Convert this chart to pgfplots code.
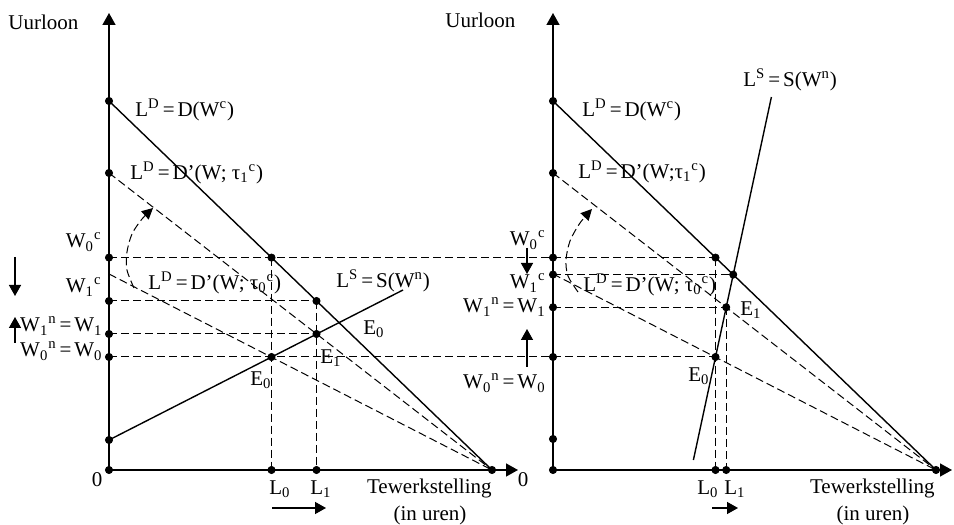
\documentclass[border=0pt]{standalone}
\usepackage{pgfplots}
\pgfplotsset{compat=1.18}
\usepackage{fontspec}
\setmainfont{Liberation Serif}
\usetikzlibrary{arrows.meta}
\newcommand{\eq}{\hspace{0.14em}=\hspace{0.14em}}
\tikzset{
  lab/.style={font=\fontsize{10.5}{12}\selectfont, inner sep=0pt},
  sol/.style={black, line width=0.7pt},
  dsh/.style={black, line width=0.5pt, dash pattern=on 4pt off 2pt},
  ax/.style={black, line width=0.75pt, -{Triangle[width=6.5pt,length=6pt]}},
  sm/.style={black, line width=0.7pt, -{Triangle[width=6pt,length=5.5pt]}},
}
\begin{document}
\begin{tikzpicture}
\begin{axis}[
  width=477pt, height=262.5pt, scale only axis,
  xmin=0, xmax=954, ymin=-55, ymax=470,
  hide axis, clip=false,
]
% bounding box
\addplot[draw=none] coordinates {(0,-55) (954,470)};

% ================= LEFT PANEL =================
% axes
\addplot[ax] coordinates {(109,0) (109,457)};
\addplot[ax] coordinates {(109,0) (518,0)};
% demand curves
\addplot[sol] coordinates {(109,369) (492,0)};
\addplot[dsh] coordinates {(109,297) (492,0)};
\addplot[dsh] coordinates {(109,196) (492,0)};
% supply
\addplot[sol] coordinates {(109,30) (403,180)};
% horizontal guides
\addplot[dsh] coordinates {(109,212.4) (715.5,212.4)};
\addplot[dsh] coordinates {(109,113) (715.5,113)};
\addplot[dsh] coordinates {(109,169) (316.5,169)};
\addplot[dsh] coordinates {(109,136) (316.5,136)};
% vertical guides
\addplot[dsh] coordinates {(271.5,212.4) (271.5,0)};
\addplot[dsh] coordinates {(316.5,169) (316.5,0)};
% rotation arrow
\addplot[dsh, smooth, -{Triangle[width=5.5pt,length=5.5pt]}] coordinates {(134,182) (127,200) (127,218) (132,236) (142,251) (153,262)};
% dots
\addplot[only marks, mark=*, mark size=1.8pt, black] coordinates {
 (109,369) (109,297) (109,212.4) (109,169) (109,136) (109,113) (109,30) (109,0)
 (271.5,0) (316.5,0) (492,0)
 (271.5,212.4) (316.5,169) (316.5,136) (271.5,113)};
% small arrows
\addplot[sm] coordinates {(15,213) (15,174)};
\addplot[sm] coordinates {(15,127) (15,153)};
\addplot[sm] coordinates {(272,-38) (326,-38)};

% labels
\node[lab, anchor=west] at (axis cs:8,448) {Uurloon};
\node[lab, anchor=west] at (axis cs:135,360) {L\textsuperscript{D}\eq D(W\textsuperscript{c})};
\node[lab, anchor=west] at (axis cs:130,297) {L\textsuperscript{D}\eq D’(W; τ\textsubscript{1}\textsuperscript{c})};
\node[lab, anchor=west] at (axis cs:148,187) {L\textsuperscript{D}\eq D’(W; τ\textsubscript{0}\textsuperscript{c})};
\node[lab, anchor=west] at (axis cs:336,189) {L\textsuperscript{S}\eq S(W\textsuperscript{n})};
\node[lab, anchor=east] at (axis cs:102,228) {W\textsubscript{0}\textsuperscript{c}};
\node[lab, anchor=east] at (axis cs:102,183) {W\textsubscript{1}\textsuperscript{c}};
\node[lab, anchor=east] at (axis cs:103,144) {W\textsubscript{1}\textsuperscript{n}\eq W\textsubscript{1}};
\node[lab, anchor=east] at (axis cs:103,119) {W\textsubscript{0}\textsuperscript{n}\eq W\textsubscript{0}};
\node[lab, anchor=west] at (axis cs:250,90) {E\textsubscript{0}};
\node[lab, anchor=west] at (axis cs:363,141) {E\textsubscript{0}};
\node[lab, anchor=west] at (axis cs:320,112) {E\textsubscript{1}};
\node[lab] at (axis cs:97,-10) {0};
\node[lab] at (axis cs:280,-19) {L\textsubscript{0}};
\node[lab] at (axis cs:321,-19) {L\textsubscript{1}};
\node[lab, anchor=east] at (axis cs:492,-18) {Tewerkstelling};
\node[lab] at (axis cs:430,-45) {(in uren)};
\node[lab] at (axis cs:523,-10) {0};

% ================= RIGHT PANEL =================
\addplot[ax] coordinates {(553,0) (553,457)};
\addplot[ax] coordinates {(553,0) (952,0)};
\addplot[sol] coordinates {(553,369) (936,0)};
\addplot[dsh] coordinates {(553,297) (936,0)};
\addplot[dsh] coordinates {(553,196) (936,0)};
% steep supply
\addplot[sol] coordinates {(693.4,10) (771.4,373)};
% guides
\addplot[dsh] coordinates {(553,195.4) (733.2,195.4)};
\addplot[dsh] coordinates {(553,162.7) (726.2,162.7)};
\addplot[dsh] coordinates {(715.5,212.4) (715.5,0)};
\addplot[dsh] coordinates {(726.2,162.7) (726.2,0)};
% rotation arrow
\addplot[dsh, smooth, -{Triangle[width=5.5pt,length=5.5pt]}] coordinates {(578,178) (568,194) (566,210) (570,229) (580,247) (592,261)};
% dots
\addplot[only marks, mark=*, mark size=1.8pt, black] coordinates {
 (553,369) (553,297) (553,212.4) (553,195.4) (553,162.7) (553,113) (553,31) (553,0)
 (715.5,0) (726.2,0) (936,0)
 (715.5,212.4) (733.2,195.4) (726.2,162.7) (715.5,113)};
% small arrows
\addplot[sm] coordinates {(527,222) (527,196)};
\addplot[sm] coordinates {(527,103) (527,141)};
\addplot[sm] coordinates {(712,-38) (738,-38)};

% labels
\node[lab, anchor=west] at (axis cs:445,450) {Uurloon};
\node[lab, anchor=west] at (axis cs:582,360) {L\textsuperscript{D}\eq D(W\textsuperscript{c})};
\node[lab, anchor=west] at (axis cs:578,298) {L\textsuperscript{D}\eq D’(W;τ\textsubscript{1}\textsuperscript{c})};
\node[lab, anchor=west] at (axis cs:743,390) {L\textsuperscript{S}\eq S(W\textsuperscript{n})};
\node[lab, anchor=west] at (axis cs:583,185) {L\textsuperscript{D}\eq D’(W; τ\textsubscript{0}\textsuperscript{c})};
\node[lab, anchor=east] at (axis cs:546,230) {W\textsubscript{0}\textsuperscript{c}};
\node[lab, anchor=east] at (axis cs:546,187) {W\textsubscript{1}\textsuperscript{c}};
\node[lab, anchor=east] at (axis cs:546,163) {W\textsubscript{1}\textsuperscript{n}\eq W\textsubscript{1}};
\node[lab, anchor=east] at (axis cs:546,87) {W\textsubscript{0}\textsuperscript{n}\eq W\textsubscript{0}};
\node[lab, anchor=west] at (axis cs:740,160) {E\textsubscript{1}};
\node[lab, anchor=west] at (axis cs:688,94) {E\textsubscript{0}};
\node[lab] at (axis cs:708,-19) {L\textsubscript{0}};
\node[lab] at (axis cs:735,-19) {L\textsubscript{1}};
\node[lab, anchor=east] at (axis cs:935,-18) {Tewerkstelling};
\node[lab] at (axis cs:873,-45) {(in uren)};
\end{axis}
\end{tikzpicture}
\end{document}
